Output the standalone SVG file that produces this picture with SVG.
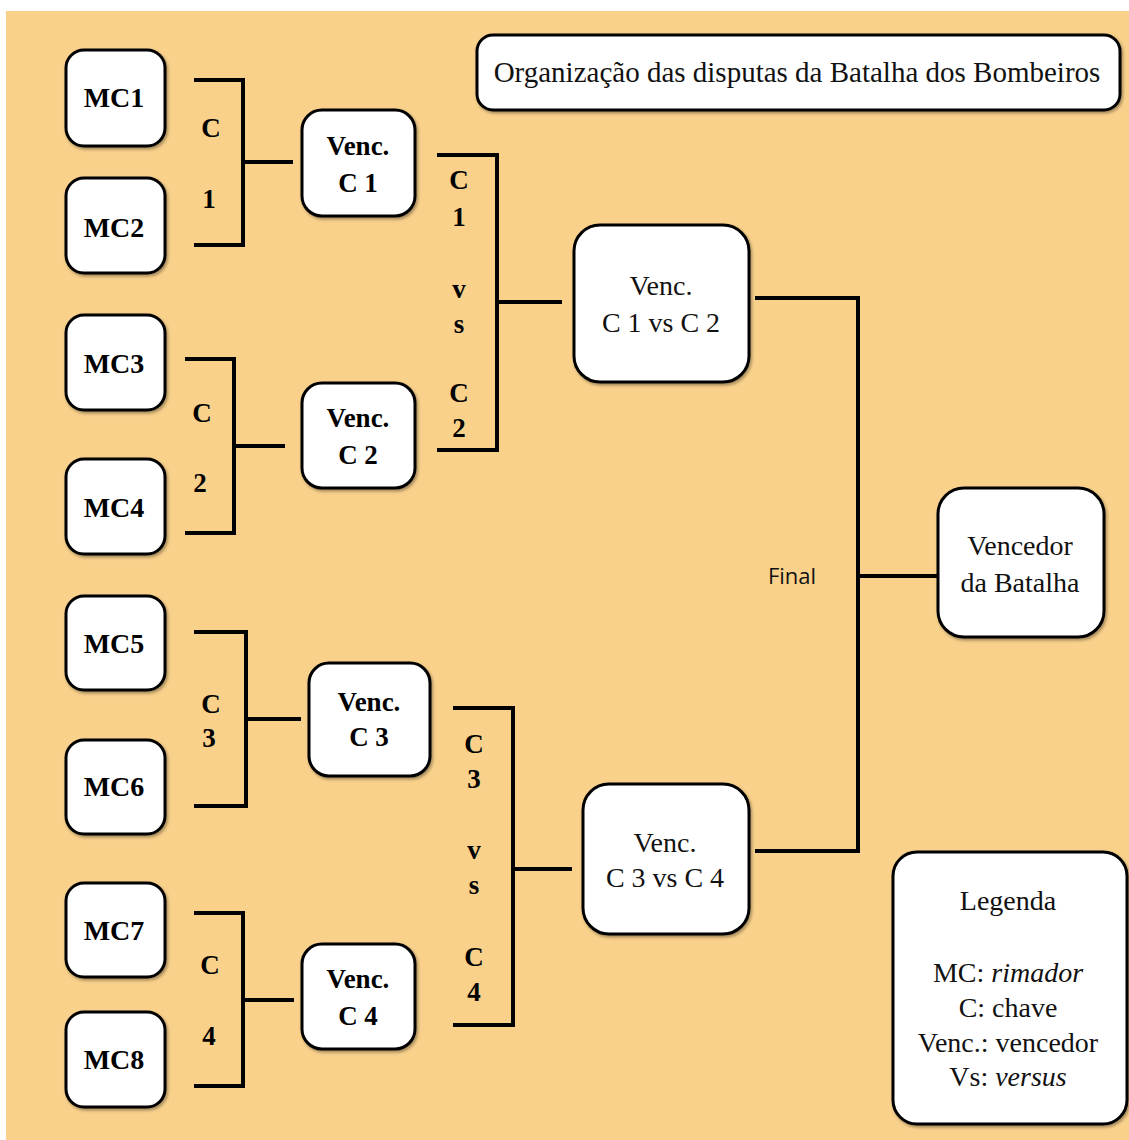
<svg xmlns="http://www.w3.org/2000/svg" width="1129" height="1140" viewBox="0 0 1129 1140">
<defs>
<filter id="sh" x="-10%" y="-10%" width="130%" height="130%">
<feDropShadow dx="1.5" dy="2" stdDeviation="1.5" flood-color="#000" flood-opacity="0.35"/>
</filter>
</defs>
<style>
.box{fill:#fff;stroke:#000;stroke-width:3;filter:url(#sh)}
.ln{stroke:#000;stroke-width:4;fill:none;stroke-linecap:square}
.b{font-family:"Liberation Serif",serif;font-weight:bold;font-size:28px;text-anchor:middle;fill:#000}
.bv{font-family:"Liberation Serif",serif;font-weight:bold;font-size:27px;text-anchor:middle;fill:#000}
.r{font-family:"Liberation Serif",serif;font-size:28px;text-anchor:middle;fill:#111}
.lab{font-family:"Liberation Serif",serif;font-weight:bold;font-size:27px;text-anchor:middle;fill:#000}
.fin{font-family:"Open Sans","Noto Sans",sans-serif;font-size:22px;text-anchor:middle;fill:#111}
</style>
<rect x="0" y="0" width="1129" height="1140" fill="#fff"/>
<rect x="6" y="11" width="1123" height="1129" fill="#F9D18B"/>

<g id="connectors">
<path class="ln" d="M196,80 H243 V245 H196 M243,162 H291"/>
<path class="ln" d="M187,359 H234 V533 H187 M234,446 H283"/>
<path class="ln" d="M196,632 H246 V806 H196 M246,719 H299"/>
<path class="ln" d="M196,913 H243 V1086 H196 M243,1000 H292"/>
<path class="ln" d="M439,155 H497 V450 H439 M497,302 H560"/>
<path class="ln" d="M455,708 H513 V1025 H455 M513,869 H570"/>
<path class="ln" d="M757,298 H858 V851 H757 M858,576 H936"/>
</g>

<g id="labels">
<text class="lab" x="211" y="137">C</text>
<text class="lab" x="209" y="208">1</text>
<text class="lab" x="202" y="422">C</text>
<text class="lab" x="200" y="492">2</text>
<text class="lab" x="211" y="713">C</text>
<text class="lab" x="209" y="747">3</text>
<text class="lab" x="210" y="974">C</text>
<text class="lab" x="209" y="1045">4</text>
<text class="lab" x="459" y="189">C</text>
<text class="lab" x="459" y="226">1</text>
<text class="lab" x="459" y="298">v</text>
<text class="lab" x="459" y="333">s</text>
<text class="lab" x="459" y="402">C</text>
<text class="lab" x="459" y="437">2</text>
<text class="lab" x="474" y="753">C</text>
<text class="lab" x="474" y="788">3</text>
<text class="lab" x="474" y="859">v</text>
<text class="lab" x="474" y="894">s</text>
<text class="lab" x="474" y="966">C</text>
<text class="lab" x="474" y="1001">4</text>
<text class="fin" x="792" y="584">Final</text>
</g>

<g id="title">
<rect class="box" x="477" y="35" width="643" height="75" rx="16"/>
<text class="r" x="797" y="82" style="font-size:29px">Organização das disputas da Batalha dos Bombeiros</text>
</g>

<g id="mc1"><rect class="box" x="66" y="50" width="99" height="96" rx="18"/><text class="b" x="114" y="107">MC1</text></g>
<g id="mc2"><rect class="box" x="66" y="178" width="99" height="95" rx="18"/><text class="b" x="114" y="237">MC2</text></g>
<g id="mc3"><rect class="box" x="66" y="315" width="99" height="95" rx="18"/><text class="b" x="114" y="373">MC3</text></g>
<g id="mc4"><rect class="box" x="66" y="459" width="99" height="95" rx="18"/><text class="b" x="114" y="517">MC4</text></g>
<g id="mc5"><rect class="box" x="66" y="596" width="99" height="94" rx="18"/><text class="b" x="114" y="653">MC5</text></g>
<g id="mc6"><rect class="box" x="66" y="740" width="99" height="94" rx="18"/><text class="b" x="114" y="796">MC6</text></g>
<g id="mc7"><rect class="box" x="66" y="883" width="99" height="94" rx="18"/><text class="b" x="114" y="940">MC7</text></g>
<g id="mc8"><rect class="box" x="66" y="1012" width="99" height="95" rx="18"/><text class="b" x="114" y="1069">MC8</text></g>

<g id="vc1"><rect class="box" x="302" y="110" width="113" height="106" rx="20"/><text class="bv" x="358" y="155">Venc.</text><text class="bv" x="358" y="192">C 1</text></g>
<g id="vc2"><rect class="box" x="302" y="383" width="113" height="105" rx="20"/><text class="bv" x="358" y="427">Venc.</text><text class="bv" x="358" y="464">C 2</text></g>
<g id="vc3"><rect class="box" x="309" y="663" width="121" height="113" rx="20"/><text class="bv" x="369" y="711">Venc.</text><text class="bv" x="369" y="746">C 3</text></g>
<g id="vc4"><rect class="box" x="302" y="944" width="113" height="105" rx="20"/><text class="bv" x="358" y="988">Venc.</text><text class="bv" x="358" y="1025">C 4</text></g>

<g id="vc12"><rect class="box" x="574" y="225" width="175" height="157" rx="26"/><text class="r" x="661" y="295">Venc.</text><text class="r" x="661" y="332">C 1 vs C 2</text></g>
<g id="vc34"><rect class="box" x="583" y="784" width="166" height="150" rx="26"/><text class="r" x="665" y="852">Venc.</text><text class="r" x="665" y="887">C 3 vs C 4</text></g>

<g id="vencedor"><rect class="box" x="938" y="488" width="166" height="149" rx="26"/><text class="r" x="1020" y="555">Vencedor</text><text class="r" x="1020" y="592">da Batalha</text></g>

<g id="legenda"><rect class="box" x="893" y="852" width="234" height="272" rx="24"/>
<text class="r" x="1008" y="910">Legenda</text>
<text class="r" x="1008" y="982">MC: <tspan font-style="italic">rimador</tspan></text>
<text class="r" x="1008" y="1017">C: chave</text>
<text class="r" x="1008" y="1052">Venc.: vencedor</text>
<text class="r" x="1008" y="1086">Vs: <tspan font-style="italic">versus</tspan></text>
</g>
</svg>
